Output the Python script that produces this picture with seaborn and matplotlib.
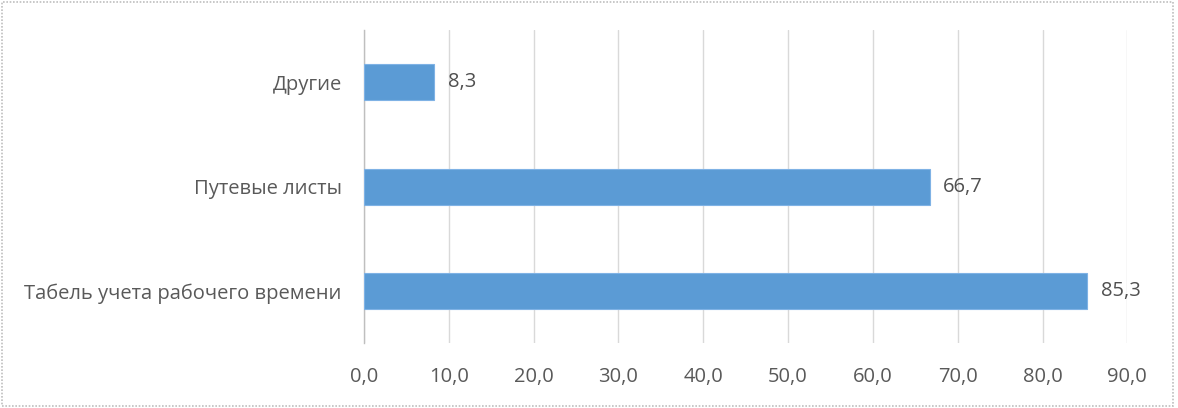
import matplotlib
matplotlib.use("Agg")
import matplotlib.pyplot as plt
import seaborn as sns
import pandas as pd
from matplotlib.patches import Rectangle
from matplotlib.ticker import FuncFormatter

# ── Data ────────────────────────────────────────────────────────────────────
categories = ["Другие", "Путевые листы", "Табель учета рабочего времени"]
values = [8.3, 66.7, 85.3]
x_ticks = [0, 10, 20, 30, 40, 50, 60, 70, 80, 90]

df = pd.DataFrame({"category": categories, "value": values})

sns.set_style("white")
plt.rcParams["font.family"] = ["Open Sans", "DejaVu Sans"]

fig = plt.figure(figsize=(11.78, 4.08), dpi=100)
ax = fig.add_axes([0.309, 0.159, 0.648, 0.767])

sns.barplot(data=df, x="value", y="category", order=categories,
            color="#5B9BD5", width=0.345, saturation=1,
            edgecolor="#7FB2E5", linewidth=0.8, ax=ax, zorder=3)

ax.set_xlim(0, 90)
ax.set_ylim(2.5, -0.5)
ax.set_xticks(x_ticks)
ax.xaxis.set_major_formatter(FuncFormatter(lambda v, p: f"{v:.1f}".replace(".", ",")))
ax.set_xlabel("")
ax.set_ylabel("")

ax.grid(axis="x", color="#D9D9D9", linewidth=1, zorder=0)
ax.grid(axis="y", visible=False)
for side in ["top", "right", "bottom"]:
    ax.spines[side].set_visible(False)
ax.spines["left"].set_color("#BFBFBF")
ax.spines["left"].set_linewidth(1)
ax.tick_params(axis="both", length=0, labelsize=14.5, colors="#595959")
ax.tick_params(axis="x", pad=17)
ax.tick_params(axis="y", pad=16)

for i, v in enumerate(values):
    ax.text(v + 1.6, i, f"{v:.1f}".replace(".", ","), va="center", ha="left",
            fontsize=14.5, color="#505050")

# image border
fig.patches.append(Rectangle((0.002, 0.004), 0.994, 0.992, transform=fig.transFigure,
                             fill=False, edgecolor="#BFBFBF", linewidth=1.2,
                             linestyle=(0, (1, 1))))

fig.savefig("out.png", dpi=100)
